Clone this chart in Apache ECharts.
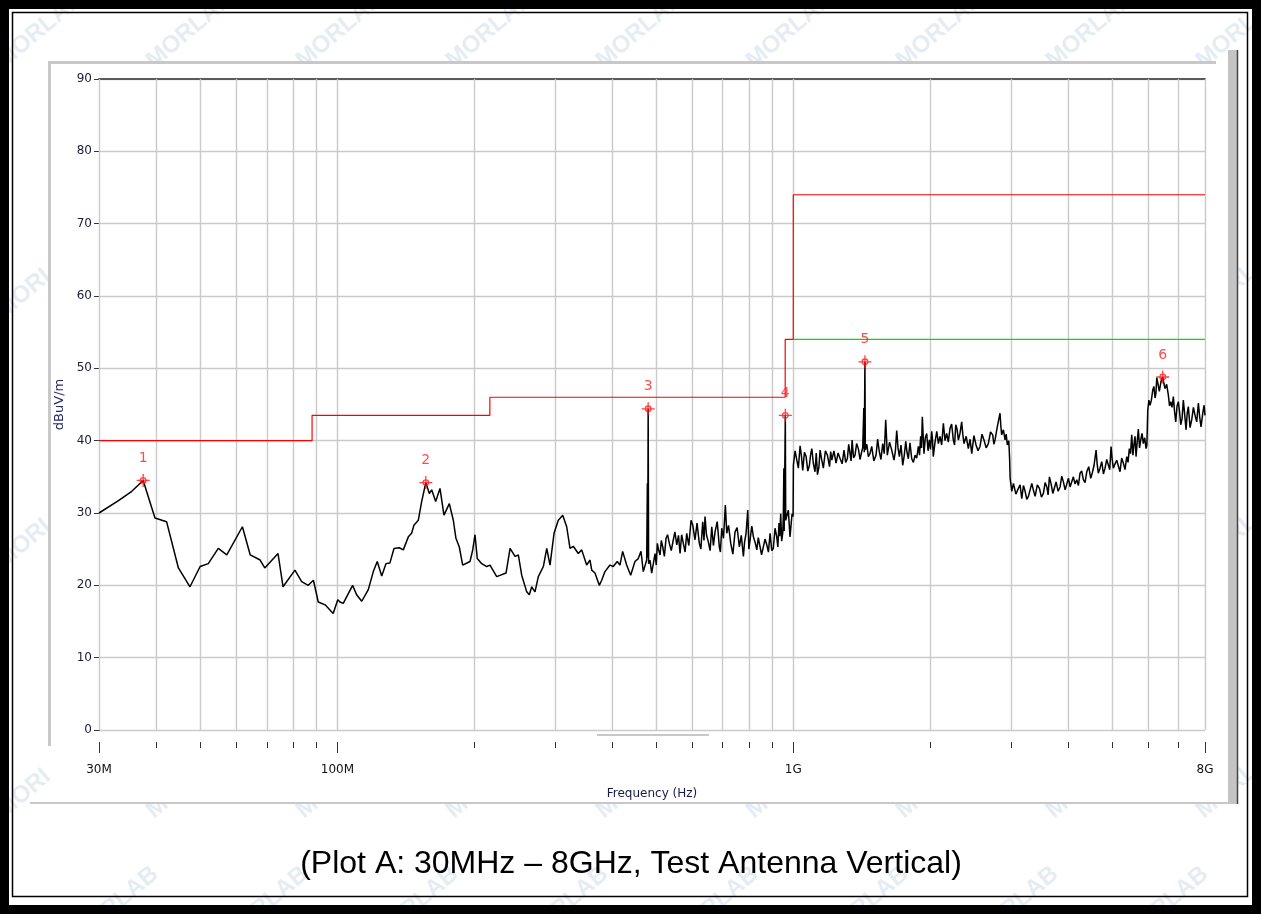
<!DOCTYPE html>
<html><head><meta charset="utf-8">
<script src="https://cdn.jsdelivr.net/npm/echarts@6/dist/echarts.min.js"></script>
<style>html,body{margin:0;padding:0;background:#fff}#c{width:1261px;height:914px}</style>
</head><body><div id="c"></div>
<script>
// ---- axis ticks (MHz) ----
const xGridTicks = [30,40,50,60,70,80,90,100,200,300,400,500,600,700,800,900,1000,2000,3000,4000,5000,6000,7000,8000];
const xMajorTicks = [30,100,1000,8000];
const xTickLabels = {30:'30M',100:'100M',1000:'1G',8000:'8G'};
const yTicks = {min:0, max:90, step:10};

// ---- limit lines [MHz, dBuV/m] ----
const peakLimit = [[30,40],[88,40],[88,43.5],[216,43.5],[216,46],[960,46],[960,54],[1000,54],[1000,74],[8000,74]];
const avgLimit = [[1000,54],[8000,54]];

// ---- marked peaks [MHz, dBuV/m] ----
const markers = [[37.5,34.5],[156.3,34.2],[480.5,44.4],[960.6,43.5],[1436,50.9],[6462,48.8]];

// ---- measured trace [MHz, dBuV/m] ----
const trace30to100M = [[30,30.0],[33.1,31.7],[35.4,33.0],[37.5,34.5],[39.8,29.3],[42.2,28.8],[44.8,22.4],[47.5,19.8],[50.0,22.6],[52.1,23.0],[54.8,25.1],[57.2,24.2],[61.9,28.1],[64.4,24.2],[67.7,23.5],[69.3,22.4],[74.1,24.4],[76.0,19.8],[80.7,22.1],[83.5,20.5],[86.3,20.0],[88.6,20.7],[90.8,17.7],[94.0,17.3],[97.9,16.1],[100.2,18.0]];
const trace100to350M = [[101.3,17.7],[103.0,17.5],[108.0,20.0],[110.2,18.7],[113.1,17.8],[116.9,19.4],[119.9,21.9],[122.3,23.3],[125.1,21.3],[127.8,23.0],[130.4,23.1],[133.1,25.1],[136.7,25.2],[139.5,24.9],[143.1,26.7],[145.5,27.2],[147.2,28.3],[150.5,29.0],[153.1,31.6],[156.3,34.2],[159.1,32.7],[161.0,33.2],[164.3,31.6],[167.9,33.4],[171.3,29.7],[176.0,31.3],[179.6,29.0],[182.0,26.5],[185.1,25.3],[188.3,22.8],[195.4,23.3],[198.1,24.9],[200.4,27.0],[202.7,23.7],[207.3,23.0],[212.6,22.6],[216.2,22.8],[223.6,21.2],[234.4,21.7],[239.2,25.1],[245.3,24.0],[249.4,24.2],[253.7,21.4],[260.2,19.1],[263.6,18.7],[266.9,19.8],[271.3,19.1],[275.9,21.2],[283.0,22.6],[287.9,25.1],[292.7,22.8],[298.7,27.2],[305.2,29.0],[312.1,29.7],[318.4,28.1],[323.8,25.1],[329.2,25.4],[337.6,24.4],[343.5,24.9],[346.3,24.9]];
const trace350to1000M = [[352.2,22.8],[358.2,23.5],[361.3,22.1],[367.3,21.7],[375.4,20.0],[380.0,20.7],[386.3,21.9],[396.2,22.8],[402.8,22.6],[411.1,23.3],[416.7,22.8],[422.4,24.7],[431.0,22.8],[439.9,21.4],[449.5,23.3],[457.1,23.7],[463.4,24.7],[468.8,21.9],[476.9,23.5],[478.6,34.1],[479.4,23.8],[480.5,44.4],[481.6,23.0],[484.9,23.5],[489.1,21.7],[497.5,24.4],[500.5,22.8],[503.3,25.8],[506.5,24.9],[510.2,24.2],[513.5,26.2],[517.2,25.3],[521.5,24.0],[525.9,26.5],[530,27.0],[534.8,25.8],[540,24.8],[545.6,26.3],[550,27.4],[555.2,25.6],[560,26.9],[564.5,24.4],[569,27.0],[573.9,25.8],[579,24.6],[583.8,27.2],[590,25.5],[596.7,29.0],[602,28.3],[608.8,26.3],[615,28.6],[622.2,25.8],[627,25.0],[633.0,28.8],[637,26.2],[640.4,29.5],[645,27.0],[651.1,26.0],[657,24.8],[662.5,28.1],[668,25.5],[673.6,27.4],[681,28.8],[688.4,25.3],[692,24.6],[696.8,27.9],[703,26.5],[709.6,31.1],[714.6,27.2],[721,28.3],[729.2,25.8],[737,24.3],[745.2,27.4],[753,28.0],[761.6,25.3],[769,26.9],[777.3,24.0],[782,26.0],[787.8,27.2],[794.6,30.4],[799,25.0],[804.1,26.3],[811,28.2],[817.6,26.7],[825,25.9],[831.8,24.9],[838,26.6],[845.7,25.3],[852,24.2],[859.9,24.4],[867,26.4],[874.8,25.6],[882,24.6],[889.5,27.2],[897,24.8],[904.1,25.1],[912,27.9],[919.8,26.7],[925,25.3],[930.5,28.6],[934,26.8],[938.5,29.9],[943,26.1],[948.1,27.2],[951,29.5],[953.5,36.2],[955,27.5],[960.6,43.5],[962.5,29.0],[967.4,29.0],[975.2,30.4],[983.6,26.7],[993.8,29.9],[999,29.5]];
const trace1to3G = [[1000.5,36.6],[1009,38.6],[1018,37.3],[1026,36.2],[1035,39.3],[1042,37.9],[1049,35.9],[1058,38.4],[1067,37.8],[1076,35.8],[1085,36.6],[1091,38.0],[1098,38.9],[1107,36.8],[1116,35.7],[1123,38.3],[1130,35.3],[1138,36.3],[1145,38.7],[1154,37.4],[1164,36.2],[1176,38.6],[1188,38.0],[1201,36.4],[1208,38.5],[1215,37.3],[1228,38.6],[1241,36.9],[1254,38.3],[1267,37.5],[1280,36.8],[1292,38.7],[1303,37.0],[1314,37.5],[1323,39.5],[1332,38.2],[1339,37.2],[1346,40.1],[1356,37.6],[1366,38.0],[1377,39.6],[1389,38.9],[1401,37.4],[1413,38.5],[1420,39.0],[1428,44.5],[1431,38.4],[1436,50.9],[1439,38.7],[1450,39.5],[1461,37.8],[1473,38.2],[1486,39.2],[1502,37.2],[1519,38.0],[1531,40.2],[1544,38.5],[1557,37.4],[1571,39.6],[1583,38.2],[1595,42.9],[1608,38.0],[1626,39.8],[1644,38.7],[1653,38.9],[1663,37.3],[1675,38.6],[1686,41.4],[1697,39.0],[1709,37.8],[1723,39.4],[1738,36.6],[1751,37.9],[1765,39.9],[1776,38.4],[1788,37.5],[1803,39.7],[1819,37.5],[1834,37.0],[1850,38.0],[1865,37.6],[1881,39.2],[1892,38.0],[1903,40.6],[1911,39.0],[1919,43.3],[1935,38.2],[1948,40.4],[1962,41.0],[1975,38.6],[1988,40.1],[2000,38.8],[2012,41.3],[2020,40.2],[2028,37.8],[2046,39.8],[2064,41.3],[2081,39.6],[2098,40.6],[2116,39.4],[2134,42.4],[2152,40.0],[2170,41.0],[2188,39.8],[2207,41.7],[2225,42.3],[2244,40.1],[2258,39.4],[2272,42.2],[2287,41.6],[2302,40.1],[2321,41.0],[2341,42.6],[2355,40.8],[2369,39.6],[2395,40.6],[2421,38.9],[2442,40.2],[2463,38.2],[2490,40.7],[2517,39.4],[2542,38.6],[2568,39.2],[2594,40.9],[2620,40.1],[2649,39.0],[2678,39.6],[2708,41.2],[2738,40.8],[2754,39.5],[2770,40.1],[2786,41.0],[2802,41.9],[2841,43.8],[2853,42.0],[2865,40.8],[2890,41.5],[2914,40.1],[2931,40.9],[2948,39.4],[2970,40.0],[2982,37.5]];
const trace3to8G = [[2990,34.8],[3015,33.0],[3040,34.1],[3078,32.6],[3117,33.4],[3144,33.9],[3171,32.0],[3198,33.8],[3225,33.0],[3252,31.9],[3279,32.3],[3307,33.2],[3336,34.1],[3364,33.1],[3392,32.3],[3430,33.9],[3467,33.4],[3502,32.2],[3537,32.7],[3568,34.2],[3599,33.6],[3622,32.5],[3646,35.0],[3678,34.0],[3709,32.7],[3740,33.5],[3771,34.3],[3810,33.0],[3848,33.6],[3880,35.1],[3913,34.3],[3947,33.2],[3981,33.0],[4014,34.8],[4047,33.6],[4081,33.4],[4115,35.0],[4150,34.0],[4186,34.6],[4221,33.8],[4256,35.5],[4292,35.8],[4328,34.6],[4365,34.2],[4403,35.7],[4447,36.4],[4492,34.8],[4530,35.6],[4568,36.6],[4615,38.7],[4640,36.8],[4668,35.5],[4708,36.2],[4749,37.1],[4789,35.4],[4829,36.2],[4870,37.4],[4910,37.5],[4944,36.0],[4978,39.2],[5006,37.4],[5036,36.2],[5079,36.8],[5122,37.3],[5165,36.5],[5208,35.7],[5252,37.6],[5296,36.9],[5342,36.0],[5388,37.8],[5423,37.0],[5459,38.9],[5492,38.2],[5526,40.8],[5558,38.0],[5591,39.6],[5619,40.6],[5647,37.8],[5680,39.8],[5713,41.6],[5748,39.0],[5783,40.1],[5821,41.0],[5859,39.6],[5900,40.4],[5940,38.9],[5965,39.4],[5991,44.2],[6026,45.6],[6061,44.9],[6102,45.6],[6144,47.0],[6180,47.5],[6216,45.9],[6243,46.5],[6270,48.7],[6311,47.8],[6352,46.8],[6407,48.2],[6462,48.8],[6500,47.9],[6537,47.2],[6592,47.8],[6648,46.3],[6688,44.8],[6729,45.4],[6773,44.6],[6818,46.1],[6860,44.0],[6901,42.6],[6947,44.8],[6993,45.4],[7035,44.0],[7078,42.2],[7124,43.0],[7171,45.6],[7220,43.6],[7270,41.5],[7312,43.8],[7355,44.7],[7418,41.8],[7482,42.9],[7545,44.6],[7608,43.5],[7672,42.6],[7737,45.2],[7790,43.2],[7842,41.9],[7902,43.6],[7962,44.9],[8000,43.5]];

const trace = [].concat(trace30to100M, trace100to350M, trace350to1000M, trace1to3G, trace3to8G).sort((a,b)=>a[0]-b[0]);

// ---- decoration text ----
const watermarkText = 'MORLAB';
const caption = '(Plot A: 30MHz \u2013 8GHz, Test Antenna Vertical)';

const W = 1261, H = 914;
const FONT = 'DejaVu Sans';
const chart = echarts.init(document.getElementById('c'), null, {renderer:'canvas', width:W, height:H});

const graphics = [];
// watermarks (behind white panel)
for (let j = 0; j < 8; j++) {
  for (let i = 0; i < 10; i++) {
    const x = 40 + i * 150 + (j % 2) * 75;
    const y = 30 + j * 125;
    graphics.push({type:'text', z:-20, x:x, y:y, rotation: 0.7,
      style:{text: watermarkText, fill:'#e6ecf3', font:'bold 24px "Liberation Sans"', align:'center', verticalAlign:'middle'}});
  }
}
// white panel that hides the watermark
graphics.push({type:'rect', z:-10, shape:{x:50, y:63, width:1178, height:739}, style:{fill:'#ffffff'}});
// panel borders
graphics.push({type:'line', z:-5, shape:{x1:48, y1:62.5, x2:1216, y2:62.5}, style:{stroke:'#c8c8c8', lineWidth:3}});
graphics.push({type:'line', z:-5, shape:{x1:49.5, y1:61, x2:49.5, y2:746}, style:{stroke:'#c8c8c8', lineWidth:3}});
graphics.push({type:'line', z:-5, shape:{x1:30, y1:803, x2:1229, y2:803}, style:{stroke:'#c8c8c8', lineWidth:2}});
graphics.push({type:'rect', z:-5, shape:{x:1228, y:50, width:9, height:754}, style:{fill:'#c4c4c4'}});
graphics.push({type:'line', z:-5, shape:{x1:1237.5, y1:50, x2:1237.5, y2:804}, style:{stroke:'#444', lineWidth:1.5}});
// small scroll indicator under plot
graphics.push({type:'rect', z:-5, shape:{x:597, y:734, width:112, height:2}, style:{fill:'#c8c8c8'}});
// caption
graphics.push({type:'text', z:5, x:631, y:864, style:{text:caption, fill:'#000', font:'32px "Liberation Sans"', align:'center', verticalAlign:'middle'}});
// outer frame
graphics.push({type:'rect', z:10, shape:{x:0, y:0, width:W, height:H}, style:{fill:'none', stroke:'#000', lineWidth:18}});
graphics.push({type:'rect', z:10, shape:{x:12.5, y:12.5, width:1235, height:884}, style:{fill:'none', stroke:'#000', lineWidth:1.5}});

const logAxisBase = {type:'log', logBase:10, min:30, max:8000, gridIndex:0};
const labelFmt = v => xTickLabels[Math.round(v)] || '';

const option = {
  animation:false,
  backgroundColor:'#ffffff',
  textStyle:{fontFamily:FONT},
  grid:{left:99, top:79, width:1106, height:651, containLabel:false},
  graphic:{elements:graphics},
  xAxis:[
    Object.assign({}, logAxisBase, {
      axisLine:{show:false}, axisTick:{show:false, customValues:xGridTicks},
      axisLabel:{show:false}, splitLine:{show:true, lineStyle:{color:'#cacaca', width:1.4}}, z:1
    }),
    Object.assign({}, logAxisBase, {
      position:'bottom', offset:12, axisLine:{show:false},
      axisTick:{show:true, customValues:xGridTicks, length:6, lineStyle:{color:'#333', width:1}},
      axisLabel:{show:false}, splitLine:{show:false}
    }),
    Object.assign({}, logAxisBase, {
      position:'bottom', offset:12, axisLine:{show:false},
      axisTick:{show:true, customValues:xMajorTicks, length:11, lineStyle:{color:'#333', width:1}},
      axisLabel:{show:true, customValues:xMajorTicks, formatter:labelFmt, margin:22, color:'#111', fontSize:12, fontFamily:FONT},
      splitLine:{show:false},
      name:'Frequency (Hz)', nameLocation:'middle', nameGap:46,
      nameTextStyle:{color:'#1a1a4a', fontSize:12, fontFamily:FONT}
    }),
    Object.assign({}, logAxisBase, {
      position:'top', axisLine:{show:true, lineStyle:{color:'#5a5a5a', width:2}},
      axisTick:{show:false}, axisLabel:{show:false}, splitLine:{show:false}
    })
  ],
  yAxis:[{
    type:'value', min:yTicks.min, max:yTicks.max, interval:yTicks.step,
    axisLine:{show:true, lineStyle:{color:'#000', width:1}},
    axisTick:{show:true, length:5, lineStyle:{color:'#333'}},
    axisLabel:{margin:7, color:'#1c1c3c', fontSize:12, fontFamily:FONT},
    splitLine:{show:true, lineStyle:{color:'#cacaca', width:1.4}},
    name:'dBuV/m', nameLocation:'middle', nameGap:31, nameRotate:90,
    nameTextStyle:{color:'#26266a', fontSize:13, fontFamily:FONT}
  }],
  series:[
    {type:'line', name:'Peak limit', xAxisIndex:0, data:peakLimit, symbol:'none', silent:true, z:3,
      lineStyle:{color:'#ff0000', width:1.2}},
    {type:'line', name:'Average limit', xAxisIndex:0, data:avgLimit, symbol:'none', silent:true, z:3,
      lineStyle:{color:'#00e000', width:1.2}},
    {type:'line', name:'Trace', xAxisIndex:0, data:trace, symbol:'none', silent:true, z:4, sampling:null,
      lineStyle:{color:'#000000', width:1.5}},
    {type:'scatter', name:'Markers', xAxisIndex:0, data:markers, z:6, silent:true,
      symbol:'path://M6,0V12M0,6H12M8.6,6A2.6,2.6,0,1,1,3.4,6A2.6,2.6,0,1,1,8.6,6Z',
      symbolSize:13,
      itemStyle:{color:'rgba(0,0,0,0)', borderColor:'#ff1010', borderWidth:1.3},
      label:{show:true, position:'top', distance:8, formatter:p => String(p.dataIndex + 1),
        color:'#ff2020', fontSize:14, fontFamily:FONT}}
  ]
};
chart.setOption(option);
</script>
</body></html>
